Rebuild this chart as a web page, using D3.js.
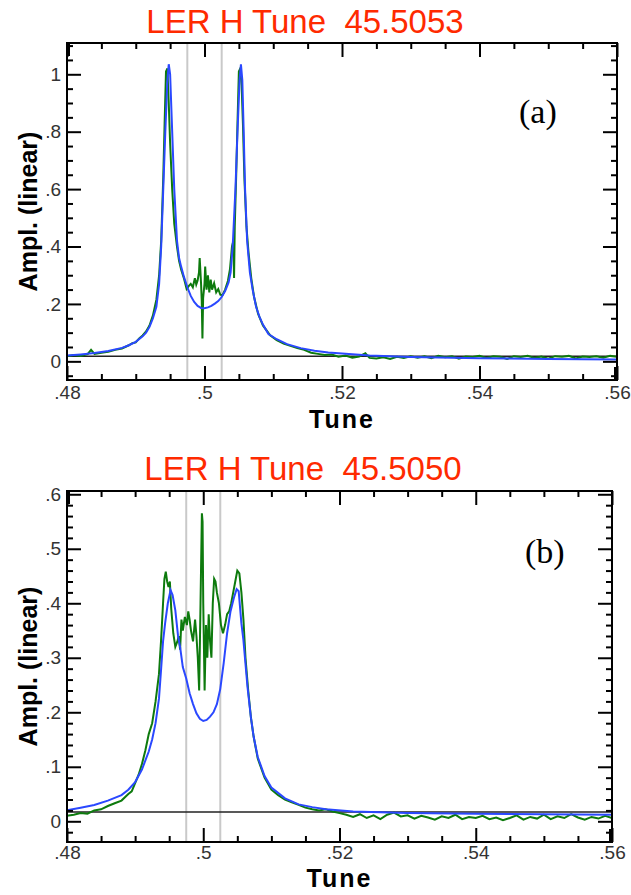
<!DOCTYPE html>
<html>
<head>
<meta charset="utf-8">
<script src="https://cdn.jsdelivr.net/npm/d3@7"></script>
<style>
  body { margin: 0; background: #fff; }
  svg { display: block; }
</style>
</head>
<body>
<div id="chart"></div>
<script>
// ---- panel (a) ----
const titleA = "LER H Tune\u00a0\u00a045.5053";
const tuneFitA = [0.480, 0.482, 0.484, 0.486, 0.488, 0.489, 0.490, 0.491, 0.4915, 0.492, 0.4925, 0.4930, 0.4934, 0.4937, 0.4940, 0.4943, 0.4946, 0.4948, 0.4950, 0.4953, 0.4956, 0.4960, 0.4963, 0.4966, 0.4970, 0.4975, 0.4980, 0.4985, 0.4990, 0.4995, 0.5000, 0.5005, 0.5010, 0.5015, 0.5020, 0.5025, 0.5030, 0.5035, 0.5038, 0.5041, 0.5045, 0.5048, 0.5051, 0.5053, 0.5055, 0.5057, 0.5059, 0.5062, 0.5066, 0.5070, 0.5075, 0.5080, 0.5085, 0.5093, 0.5105, 0.5120, 0.5140, 0.5160, 0.5180, 0.5200, 0.5240, 0.5300, 0.5400, 0.5500, 0.5600];
const ampFitA = [0.020, 0.024, 0.029, 0.036, 0.047, 0.056, 0.068, 0.087, 0.100, 0.120, 0.150, 0.190, 0.270, 0.400, 0.600, 0.800, 0.980, 1.035, 1.000, 0.800, 0.600, 0.420, 0.360, 0.330, 0.295, 0.258, 0.228, 0.207, 0.193, 0.186, 0.185, 0.188, 0.193, 0.201, 0.210, 0.224, 0.245, 0.275, 0.310, 0.400, 0.600, 0.800, 0.980, 1.035, 0.980, 0.800, 0.600, 0.420, 0.310, 0.250, 0.190, 0.155, 0.128, 0.095, 0.077, 0.060, 0.046, 0.037, 0.031, 0.027, 0.020, 0.015, 0.011, 0.008, 0.006];
const tuneDataA = [0.4800, 0.4810, 0.4820, 0.4830, 0.4835, 0.4840, 0.4850, 0.4860, 0.4870, 0.4880, 0.4890, 0.4895, 0.4900, 0.4905, 0.4910, 0.4915, 0.4920, 0.4925, 0.4930, 0.4934, 0.4937, 0.4940, 0.4942, 0.4944, 0.4946, 0.4948, 0.4950, 0.4953, 0.4956, 0.4960, 0.4963, 0.4966, 0.4970, 0.4974, 0.4977, 0.4980, 0.4983, 0.4986, 0.4988, 0.4990, 0.4992, 0.4993, 0.4995, 0.4996, 0.4997, 0.4998, 0.5000, 0.5001, 0.5003, 0.5005, 0.5007, 0.5009, 0.5011, 0.5014, 0.5017, 0.5020, 0.5023, 0.5026, 0.5030, 0.5034, 0.5037, 0.5040, 0.5042, 0.5043, 0.5044, 0.5046, 0.5048, 0.5050, 0.5052, 0.5054, 0.5056, 0.5058, 0.5061, 0.5064, 0.5068, 0.5072, 0.5078, 0.5085, 0.5095, 0.5105, 0.5115, 0.5125, 0.5135, 0.5145, 0.5155, 0.5165, 0.5175, 0.5185, 0.5195, 0.5205, 0.5215, 0.5225, 0.5234, 0.5240, 0.5250, 0.5260, 0.5270, 0.5280, 0.5290, 0.5300, 0.5310, 0.5320, 0.5330, 0.5340, 0.5350, 0.5360, 0.5370, 0.5380, 0.5390, 0.5400, 0.5410, 0.5420, 0.5430, 0.5440, 0.5450, 0.5460, 0.5470, 0.5480, 0.5490, 0.5500, 0.5510, 0.5520, 0.5530, 0.5540, 0.5550, 0.5560, 0.5570, 0.5580, 0.5590, 0.5600];
const ampDataA = [0.018, 0.022, 0.019, 0.025, 0.040, 0.026, 0.030, 0.033, 0.040, 0.045, 0.056, 0.063, 0.066, 0.080, 0.090, 0.104, 0.125, 0.160, 0.215, 0.300, 0.420, 0.640, 0.830, 1.010, 1.020, 0.900, 0.760, 0.600, 0.480, 0.400, 0.350, 0.320, 0.290, 0.252, 0.262, 0.270, 0.258, 0.290, 0.268, 0.282, 0.310, 0.360, 0.270, 0.210, 0.080, 0.220, 0.270, 0.330, 0.250, 0.300, 0.240, 0.285, 0.250, 0.272, 0.240, 0.252, 0.232, 0.230, 0.250, 0.280, 0.320, 0.400, 0.420, 0.290, 0.470, 0.640, 0.830, 1.010, 1.020, 0.960, 0.820, 0.640, 0.470, 0.380, 0.290, 0.225, 0.165, 0.125, 0.092, 0.074, 0.062, 0.054, 0.046, 0.040, 0.030, 0.026, 0.022, 0.024, 0.016, 0.020, 0.013, 0.017, 0.028, 0.012, 0.010, 0.014, 0.008, 0.016, 0.012, 0.018, 0.013, 0.018, 0.011, 0.019, 0.014, 0.018, 0.009, 0.017, 0.015, 0.019, 0.012, 0.018, 0.016, 0.008, 0.018, 0.015, 0.019, 0.012, 0.017, 0.009, 0.018, 0.016, 0.019, 0.010, 0.017, 0.015, 0.018, 0.013, 0.019, 0.016];
const yTicksA = [0, 0.2, 0.4, 0.6, 0.8, 1];
const yLabelsA = ["0", ".2", ".4", ".6", ".8", "1"];
const baselineA = 0.018;

// ---- panel (b) ----
const titleB = "LER H Tune\u00a0\u00a045.5050";
const tuneFitB = [0.480, 0.482, 0.484, 0.486, 0.488, 0.489, 0.490, 0.491, 0.492, 0.4925, 0.4930, 0.4935, 0.4938, 0.4941, 0.4944, 0.4948, 0.4952, 0.4955, 0.4959, 0.4963, 0.4966, 0.4970, 0.4975, 0.4980, 0.4985, 0.4990, 0.4995, 0.5000, 0.5005, 0.5010, 0.5015, 0.5020, 0.5025, 0.5030, 0.5035, 0.5040, 0.5045, 0.5049, 0.5052, 0.5056, 0.5059, 0.5065, 0.5070, 0.5074, 0.5080, 0.5090, 0.5100, 0.5120, 0.5140, 0.5160, 0.5180, 0.5220, 0.5300, 0.5400, 0.5500, 0.5600];
const ampFitB = [0.020, 0.025, 0.030, 0.038, 0.048, 0.058, 0.072, 0.095, 0.128, 0.150, 0.180, 0.225, 0.277, 0.330, 0.363, 0.400, 0.424, 0.415, 0.387, 0.340, 0.320, 0.283, 0.262, 0.235, 0.215, 0.198, 0.188, 0.184, 0.186, 0.192, 0.200, 0.215, 0.243, 0.290, 0.345, 0.385, 0.410, 0.426, 0.422, 0.363, 0.332, 0.246, 0.190, 0.155, 0.118, 0.083, 0.062, 0.042, 0.031, 0.026, 0.022, 0.018, 0.015, 0.014, 0.013, 0.012];
const tuneDataB = [0.4800, 0.4810, 0.4820, 0.4830, 0.4840, 0.4850, 0.4860, 0.4870, 0.4880, 0.4890, 0.4895, 0.4900, 0.4905, 0.4910, 0.4915, 0.4920, 0.4925, 0.4930, 0.4935, 0.4938, 0.4941, 0.4943, 0.4945, 0.4947, 0.4949, 0.4951, 0.4953, 0.4956, 0.4959, 0.4962, 0.4964, 0.4966, 0.4968, 0.4970, 0.4973, 0.4976, 0.4978, 0.4980, 0.4982, 0.4985, 0.4988, 0.4990, 0.4992, 0.4994, 0.4996, 0.4998, 0.4999, 0.5000, 0.5002, 0.5004, 0.5006, 0.5008, 0.5010, 0.5012, 0.5014, 0.5016, 0.5018, 0.5020, 0.5023, 0.5026, 0.5029, 0.5032, 0.5035, 0.5038, 0.5041, 0.5044, 0.5047, 0.5050, 0.5053, 0.5056, 0.5059, 0.5062, 0.5066, 0.5070, 0.5074, 0.5080, 0.5090, 0.5100, 0.5110, 0.5120, 0.5130, 0.5140, 0.5150, 0.5160, 0.5170, 0.5180, 0.5190, 0.5200, 0.5210, 0.5220, 0.5230, 0.5240, 0.5250, 0.5260, 0.5270, 0.5280, 0.5290, 0.5300, 0.5310, 0.5320, 0.5330, 0.5340, 0.5350, 0.5360, 0.5370, 0.5380, 0.5390, 0.5400, 0.5410, 0.5420, 0.5430, 0.5440, 0.5450, 0.5460, 0.5470, 0.5480, 0.5490, 0.5500, 0.5510, 0.5520, 0.5530, 0.5540, 0.5550, 0.5560, 0.5570, 0.5580, 0.5590, 0.5600];
const ampDataB = [0.010, 0.012, 0.015, 0.014, 0.020, 0.022, 0.028, 0.033, 0.038, 0.050, 0.055, 0.070, 0.085, 0.105, 0.130, 0.160, 0.180, 0.220, 0.270, 0.330, 0.400, 0.445, 0.458, 0.440, 0.430, 0.440, 0.390, 0.345, 0.320, 0.330, 0.340, 0.315, 0.370, 0.350, 0.375, 0.360, 0.385, 0.370, 0.350, 0.330, 0.370, 0.340, 0.300, 0.240, 0.400, 0.565, 0.550, 0.400, 0.240, 0.360, 0.300, 0.380, 0.330, 0.300, 0.400, 0.445, 0.440, 0.420, 0.400, 0.360, 0.345, 0.360, 0.380, 0.385, 0.400, 0.420, 0.440, 0.460, 0.455, 0.420, 0.370, 0.300, 0.240, 0.190, 0.155, 0.115, 0.080, 0.058, 0.048, 0.040, 0.035, 0.030, 0.025, 0.022, 0.020, 0.022, 0.018, 0.015, 0.012, 0.008, 0.013, 0.006, 0.011, 0.004, 0.012, 0.016, 0.009, 0.011, 0.005, 0.010, 0.007, 0.003, 0.009, 0.006, 0.012, 0.004, 0.008, 0.006, 0.010, 0.004, 0.007, 0.002, 0.006, 0.011, 0.003, 0.008, 0.005, 0.012, 0.004, 0.009, 0.006, 0.013, 0.007, 0.003, 0.008, 0.005, 0.010, 0.006];
const yTicksB = [0, 0.1, 0.2, 0.3, 0.4, 0.5, 0.6];
const yLabelsB = ["0", ".1", ".2", ".3", ".4", ".5", ".6"];
const baselineB = 0.017;

// ---- shared ----
const xTicks = [0.48, 0.50, 0.52, 0.54, 0.56];
const xLabels = [".48", ".5", ".52", ".54", ".56"];
const markerTunes = [0.4975, 0.5025];

const panels = [
  { title: titleA, tag: "(a)", fitX: tuneFitA, fitY: ampFitA, dataX: tuneDataA, dataY: ampDataA,
    yTicks: yTicksA, yLabels: yLabelsA, yMinorStep: 0.05, baseline: baselineA,
    left: 67, right: 617, top: 43, bottom: 380, yDomain: [-0.065, 1.109],
    titleX: 305, titleY: 33, tagX: 519, tagY: 123, tuneY: 428, xPad: 6 },
  { title: titleB, tag: "(b)", fitX: tuneFitB, fitY: ampFitB, dataX: tuneDataB, dataY: ampDataB,
    yTicks: yTicksB, yLabels: yLabelsB, yMinorStep: 0.02, baseline: baselineB,
    left: 67, right: 612, top: 491, bottom: 842, yDomain: [-0.038, 0.606],
    titleX: 303, titleY: 480, tagX: 525, tagY: 563, tuneY: 887, xPad: 4 }
];

const svg = d3.select("#chart").append("svg")
    .attr("width", 631)
    .attr("height", 895)
    .style("font-family", "'Liberation Sans', Arial, sans-serif");

panels.forEach(function (p, i) {
    const x = d3.scaleLinear().domain([0.48, 0.56]).range([p.left, p.right]);
    const y = d3.scaleLinear().domain(p.yDomain).range([p.bottom, p.top]);

    const clipId = "clip" + i;
    svg.append("clipPath").attr("id", clipId)
        .append("rect")
        .attr("x", p.left).attr("y", p.top)
        .attr("width", p.right - p.left).attr("height", p.bottom - p.top);

    const g = svg.append("g");
    const plot = g.append("g").attr("clip-path", "url(#" + clipId + ")");

    // grey marker lines
    plot.selectAll(".marker").data(markerTunes).enter().append("line")
        .attr("x1", d => x(d)).attr("x2", d => x(d))
        .attr("y1", p.top).attr("y2", p.bottom)
        .attr("stroke", "#c9c9c9").attr("stroke-width", 2);

    // baseline
    plot.append("line")
        .attr("x1", p.left).attr("x2", p.right)
        .attr("y1", y(p.baseline)).attr("y2", y(p.baseline))
        .attr("stroke", "#222").attr("stroke-width", 1.5);

    const line = d3.line().x(d => x(d[0])).y(d => y(d[1]));

    // measured data (green)
    plot.append("path")
        .datum(d3.zip(p.dataX, p.dataY))
        .attr("fill", "none").attr("stroke", "#0d7a0d").attr("stroke-width", 2)
        .attr("d", line);

    // fit (blue)
    plot.append("path")
        .datum(d3.zip(p.fitX, p.fitY))
        .attr("fill", "none").attr("stroke", "#2a48ff").attr("stroke-width", 2)
        .attr("d", line);

    // minor ticks
    const xMinor = d3.range(0.48, 0.5601, 0.005).filter(v => Math.abs(Math.round(v * 50) - v * 50) > 1e-6);
    const yMinor = d3.range(Math.ceil(p.yDomain[0] / p.yMinorStep) * p.yMinorStep, p.yDomain[1], p.yMinorStep)
        .filter(v => !p.yTicks.some(t => Math.abs(t - v) < 1e-6));

    const addAxis = function (axis, tx, ty) {
        const a = g.append("g").attr("transform", `translate(${tx},${ty})`).call(axis);
        a.select(".domain").remove();
        a.selectAll("line").attr("stroke", "#000").attr("stroke-width", 2);
        return a;
    };

    addAxis(d3.axisBottom(x).tickValues(xMinor).tickSizeInner(-6).tickSizeOuter(0).tickFormat(""), 0, p.bottom);
    addAxis(d3.axisTop(x).tickValues(xMinor).tickSizeInner(-6).tickSizeOuter(0).tickFormat(""), 0, p.top);
    addAxis(d3.axisLeft(y).tickValues(yMinor).tickSizeInner(-6).tickSizeOuter(0).tickFormat(""), p.left, 0);
    addAxis(d3.axisRight(y).tickValues(yMinor).tickSizeInner(-6).tickSizeOuter(0).tickFormat(""), p.right, 0);

    // major ticks with labels
    const xAx = addAxis(d3.axisBottom(x).tickValues(xTicks).tickSizeInner(-14).tickSizeOuter(0)
        .tickPadding(p.xPad).tickFormat((d, k) => xLabels[k]), 0, p.bottom);
    addAxis(d3.axisTop(x).tickValues(xTicks).tickSizeInner(-14).tickSizeOuter(0).tickFormat(""), 0, p.top);
    const yAx = addAxis(d3.axisLeft(y).tickValues(p.yTicks).tickSizeInner(-14).tickSizeOuter(0)
        .tickPadding(6).tickFormat((d, k) => p.yLabels[k]), p.left, 0);
    addAxis(d3.axisRight(y).tickValues(p.yTicks).tickSizeInner(-14).tickSizeOuter(0).tickFormat(""), p.right, 0);

    [xAx, yAx].forEach(a => a.selectAll("text")
        .attr("fill", "#333")
        .style("font-family", "'Liberation Sans', Arial, sans-serif")
        .style("font-size", "19px"));

    // frame
    g.append("rect")
        .attr("x", p.left).attr("y", p.top)
        .attr("width", p.right - p.left).attr("height", p.bottom - p.top)
        .attr("fill", "none").attr("stroke", "#000").attr("stroke-width", 2);
    // heavy corner marks
    g.append("rect").attr("x", p.left - 1).attr("y", p.top).attr("width", 4).attr("height", 13).attr("fill", "#000");
    g.append("rect").attr("x", p.right - 3).attr("y", p.bottom - 13).attr("width", 4).attr("height", 13).attr("fill", "#000");

    // title
    g.append("text")
        .attr("x", p.titleX).attr("y", p.titleY)
        .attr("text-anchor", "middle")
        .attr("fill", "#ff2a00")
        .style("font-size", "33px")
        .text(p.title);

    // panel tag
    g.append("text")
        .attr("x", p.tagX).attr("y", p.tagY)
        .attr("fill", "#000")
        .style("font-family", "'Liberation Serif', 'Times New Roman', serif")
        .style("font-size", "34px")
        .text(p.tag);

    // axis titles
    g.append("text")
        .attr("x", (p.left + p.right) / 2).attr("y", p.tuneY)
        .attr("text-anchor", "middle")
        .style("font-size", "25px").style("font-weight", "bold")
        .style("letter-spacing", "2px")
        .text("Tune");

    g.append("text")
        .attr("transform", `translate(37,${(p.top + p.bottom) / 2}) rotate(-90)`)
        .attr("text-anchor", "middle")
        .style("font-size", "25px").style("font-weight", "bold")
        .text("Ampl. (linear)");
});
</script>
</body>
</html>
